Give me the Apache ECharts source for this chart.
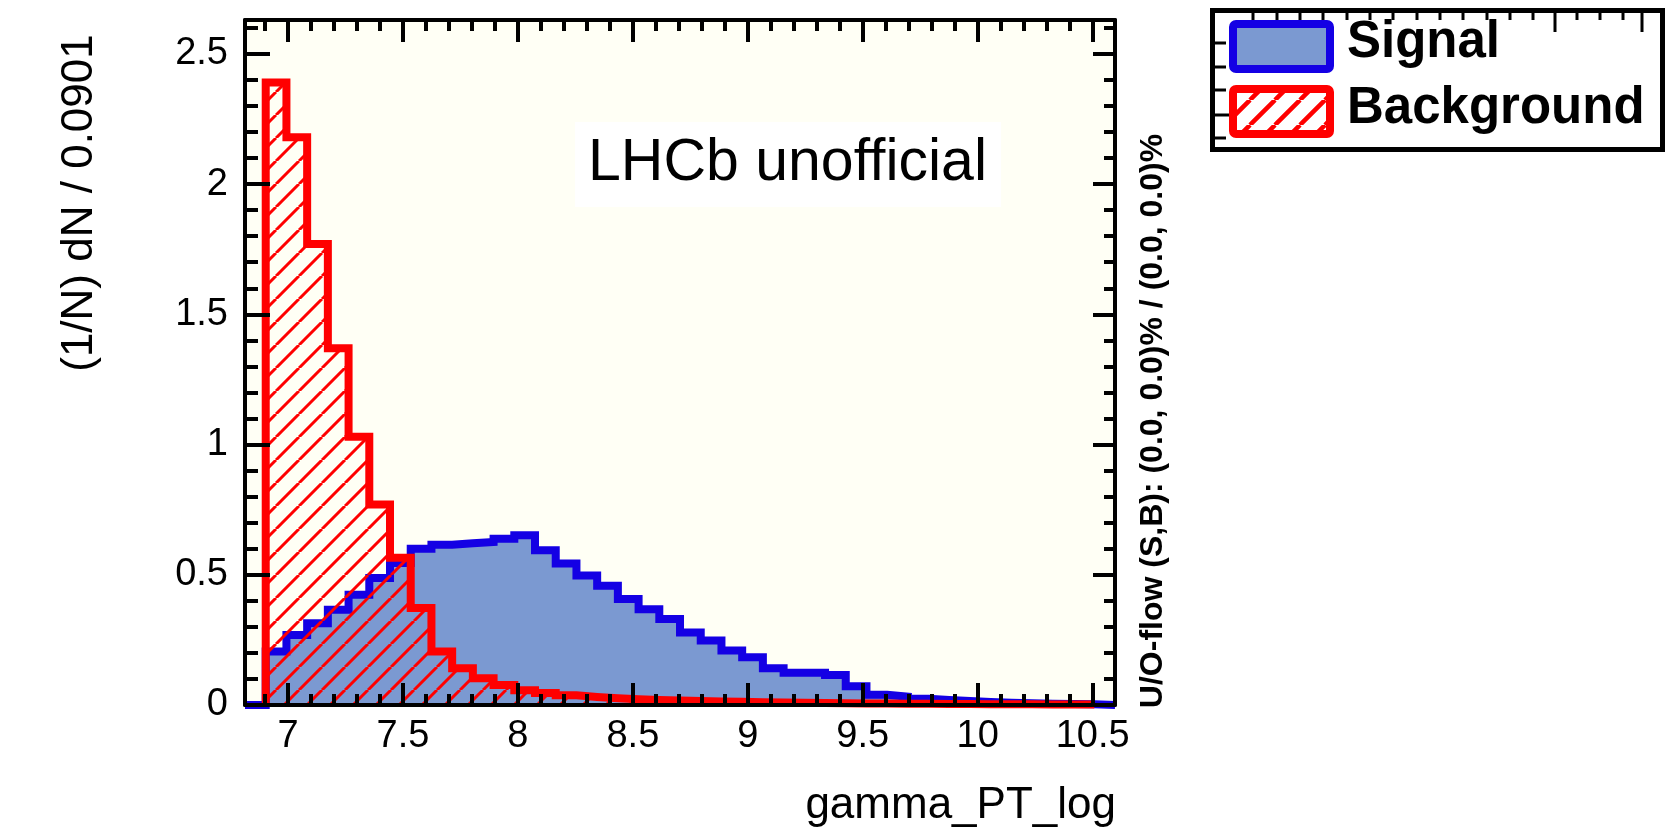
<!DOCTYPE html>
<html><head><meta charset="utf-8">
<script src="https://cdn.jsdelivr.net/npm/echarts@6/dist/echarts.min.js"></script>
<style>html,body{margin:0;padding:0;background:#fff}#c{width:1666px;height:828px}</style>
</head><body><div id="c"></div>
<script>
// ---- data ----
const xLow = 6.813;          // lower edge of first bin
const binWidth = 0.0901;     // bin width
const xHigh = 10.597;
const yMax = 2.63;
const signal = [0, 0.205, 0.269, 0.314, 0.366, 0.423, 0.488, 0.545, 0.600, 0.615, 0.621, 0.626, 0.638, 0.652, 0.594, 0.543, 0.497, 0.458, 0.407, 0.368, 0.330, 0.278, 0.248, 0.209, 0.183, 0.141, 0.124, 0.124, 0.115, 0.072, 0.039, 0.032, 0.024, 0.019, 0.015, 0.012, 0.009, 0.007, 0.005, 0.004, 0.003, 0];
const background = [null, 2.39, 2.18, 1.77, 1.37, 1.03, 0.77, 0.565, 0.372, 0.205, 0.141, 0.103, 0.077, 0.057, 0.046, 0.037, 0.031, 0.026, 0.022, 0.019, 0.017, 0.015, 0.013, 0.012, 0.011, 0.010, 0.009, 0.008, 0.007, 0.006, 0.006, 0.005, 0.005, 0.004, 0.004, 0.003, 0.003, 0.003, 0.002, 0.002, 0.002, null];
const xMajorTicks = [7, 7.5, 8, 8.5, 9, 9.5, 10, 10.5];
const xMinorTicks = [6.9, 7.0, 7.1, 7.2, 7.3, 7.4, 7.5, 7.6, 7.7, 7.8, 7.9, 8.0, 8.1, 8.2, 8.3, 8.4, 8.5, 8.6, 8.7, 8.8, 8.9, 9.0, 9.1, 9.2, 9.3, 9.4, 9.5, 9.6, 9.7, 9.8, 9.9, 10.0, 10.1, 10.2, 10.3, 10.4, 10.5];
const yMajorTicks = [0, 0.5, 1, 1.5, 2, 2.5];
const yMinorTicks = [0, 0.1, 0.2, 0.3, 0.4, 0.5, 0.6, 0.7, 0.8, 0.9, 1.0, 1.1, 1.2, 1.3, 1.4, 1.5, 1.6, 1.7, 1.8, 1.9, 2.0, 2.1, 2.2, 2.3, 2.4, 2.5, 2.6];
const xTitle = 'gamma_PT_log';
const yTitle = '(1/N) dN / 0.0901';
const sideText = 'U/O-flow (S,B): (0.0, 0.0)% / (0.0, 0.0)%';
const labelText = 'LHCb unofficial';
const seriesNames = ['Signal', 'Background'];

// ---- helpers ----
function edge(i) { return +(xLow + i * binWidth).toFixed(5); }
function stepPoints(vals) {
  const pts = [];
  let first = 0; while (vals[first] === null) first++;
  let last = vals.length - 1; while (vals[last] === null) last--;
  pts.push([edge(first), 0]);
  for (let i = first; i <= last; i++) {
    pts.push([edge(i), vals[i]]);
    pts.push([edge(i + 1), vals[i]]);
  }
  pts.push([edge(last + 1), 0]);
  return pts;
}
function hatch(size, lw, color, bg) {
  const c = document.createElement('canvas');
  c.width = c.height = size;
  const g = c.getContext('2d');
  if (bg) { g.fillStyle = bg; g.fillRect(0, 0, size, size); }
  g.strokeStyle = color; g.lineWidth = lw;
  g.beginPath();
  for (let k = -1; k <= 1; k++) {
    g.moveTo(k * size, size); g.lineTo(k * size + size, 0);
  }
  g.stroke();
  return c;
}

const FONT = '"Liberation Sans", Arial, Helvetica, sans-serif';
const BLUE_LINE = '#1400e4';
const BLUE_FILL = '#7b99d1';
const RED = '#ff0000';
const FRAME_BG = '#fffff5';

const hatchSeries = hatch(23, 3, RED, null);
const hatchLegend = hatch(25, 4.5, RED, '#ffffff');

function xAxisDef(pos, ticks, len, labels) {
  return {
    type: 'value', min: xLow, max: xHigh, position: pos, z: 10,
    axisLine: { show: len > 15, onZero: false, lineStyle: { color: '#000', width: 4 } },
    axisTick: { show: true, inside: true, length: len, customValues: ticks, lineStyle: { color: '#000', width: 4 } },
    axisLabel: labels ? { show: true, customValues: ticks, color: '#000', fontSize: 38, fontFamily: FONT, margin: 13 } : { show: false },
    splitLine: { show: false }
  };
}
function yAxisDef(pos, ticks, len, labels) {
  return {
    type: 'value', min: 0, max: yMax, position: pos, z: 10,
    axisLine: { show: len > 15, onZero: false, lineStyle: { color: '#000', width: 4 } },
    axisTick: { show: true, inside: true, length: len, customValues: ticks, lineStyle: { color: '#000', width: 4 } },
    axisLabel: labels ? { show: true, customValues: ticks, color: '#000', fontSize: 38, fontFamily: FONT, margin: 17 } : { show: false },
    splitLine: { show: false }
  };
}

// legend decorative ticks
const legTopX = [1253, 1277, 1300, 1323, 1347, 1370, 1393, 1417, 1440, 1463, 1487, 1510, 1533, 1555, 1577, 1600, 1623, 1642];
const legTopLong = [1300, 1555, 1642];
const legLeftY = [43, 67, 90, 115, 138];
const legLeftLong = [115];
const legendGraphics = [];
legendGraphics.push({ type: 'rect', shape: { x: 1212.5, y: 10.5, width: 450, height: 139 }, style: { fill: '#fff', stroke: '#000', lineWidth: 5 }, z: 100 });
legTopX.forEach(x => legendGraphics.push({ type: 'line', shape: { x1: x, y1: 10, x2: x, y2: 10 + (legTopLong.includes(x) ? 22 : 10) }, style: { stroke: '#000', lineWidth: 3 }, z: 101 }));
legLeftY.forEach(y => legendGraphics.push({ type: 'line', shape: { x1: 1212, y1: y, x2: 1212 + (legLeftLong.includes(y) ? 28 : 14), y2: y }, style: { stroke: '#000', lineWidth: 3 }, z: 101 }));
legendGraphics.push({ type: 'rect', shape: { x: 1233, y: 24, width: 97, height: 45, r: 3 }, style: { fill: BLUE_FILL, stroke: BLUE_LINE, lineWidth: 8 }, z: 102 });
legendGraphics.push({ type: 'rect', shape: { x: 1233, y: 89, width: 97, height: 45, r: 3 }, style: { fill: { image: hatchLegend, repeat: 'repeat' }, stroke: RED, lineWidth: 8 }, z: 102 });
legendGraphics.push({ type: 'text', style: { x: 1347, y: 43, text: seriesNames[0], font: 'bold 51px ' + FONT, fill: '#000', verticalAlign: 'middle' }, z: 103 });
legendGraphics.push({ type: 'text', style: { x: 1347, y: 109, text: seriesNames[1], font: 'bold 51px ' + FONT, fill: '#000', verticalAlign: 'middle' }, z: 103 });

const option = {
  animation: false,
  backgroundColor: '#ffffff',
  grid: { left: 245, top: 20, width: 870, height: 685, show: true, backgroundColor: FRAME_BG, borderColor: '#000', borderWidth: 0, containLabel: false },
  xAxis: [
    xAxisDef('bottom', xMajorTicks, 22, true),
    xAxisDef('bottom', xMinorTicks, 11, false),
    xAxisDef('top', xMajorTicks, 22, false),
    xAxisDef('top', xMinorTicks, 11, false)
  ],
  yAxis: [
    yAxisDef('left', yMajorTicks, 25, true),
    yAxisDef('left', yMinorTicks, 13, false),
    yAxisDef('right', yMajorTicks, 22, false),
    yAxisDef('right', yMinorTicks, 11, false)
  ],
  series: [
    {
      name: seriesNames[0], type: 'line', xAxisIndex: 0, yAxisIndex: 0,
      data: stepPoints(signal), showSymbol: false, clip: false, z: 2,
      lineStyle: { color: BLUE_LINE, width: 8, join: 'miter', cap: 'butt' },
      areaStyle: { color: BLUE_FILL, opacity: 1, origin: 'start' }
    },
    {
      name: seriesNames[1], type: 'line', xAxisIndex: 0, yAxisIndex: 0,
      data: stepPoints(background), showSymbol: false, clip: false, z: 3,
      lineStyle: { color: RED, width: 8, join: 'miter', cap: 'butt' },
      areaStyle: { color: { image: hatchSeries, repeat: 'repeat' }, opacity: 1, origin: 'start' }
    }
  ],
  graphic: [
    { type: 'rect', shape: { x: 575, y: 122, width: 426, height: 85 }, style: { fill: '#ffffff' }, z: 50 },
    { type: 'text', style: { x: 588, y: 164, text: labelText, font: '59px ' + FONT, fill: '#000', verticalAlign: 'middle' }, z: 51 },
    { type: 'text', x: 80, y: 203, rotation: Math.PI / 2, style: { x: 0, y: 0, text: yTitle, font: '44px ' + FONT, fill: '#000', align: 'center', verticalAlign: 'middle' }, z: 51 },
    { type: 'text', style: { x: 1116, y: 806, text: xTitle, font: '44px ' + FONT, fill: '#000', align: 'right', verticalAlign: 'middle' }, z: 51 },
    { type: 'text', x: 1153, y: 421, rotation: Math.PI / 2, style: { x: 0, y: 0, text: sideText, font: 'bold 32px ' + FONT, fill: '#000', align: 'center', verticalAlign: 'middle' }, z: 51 }
  ].concat(legendGraphics)
};
const chart = echarts.init(document.getElementById('c'));
chart.setOption(option);
</script></body></html>
